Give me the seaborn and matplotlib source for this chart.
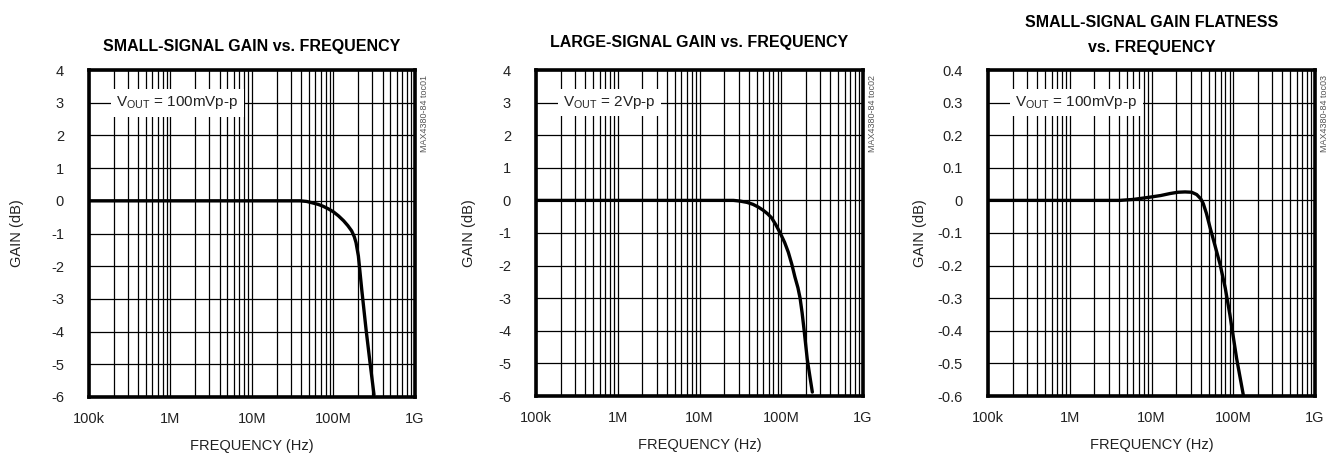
import numpy as np
import pandas as pd
import matplotlib
matplotlib.use("Agg")
import matplotlib.pyplot as plt
import seaborn as sns
from matplotlib.ticker import FixedLocator, NullFormatter

# ---- data ----
freq1 = [1e5, 1e6, 1e7, 3e7, 3.9e7, 4.7e7, 5.65e7, 6.5e7, 7.5e7, 8.7e7, 1.0e8, 1.15e8,
         1.33e8, 1.5e8, 1.67e8, 1.8e8, 1.89e8, 2.02e8, 2.22e8, 2.51e8, 2.81e8, 3.14e8]
gain1 = [0, 0, 0, 0, 0, -0.02, -0.07, -0.11, -0.17, -0.25, -0.34, -0.46,
         -0.61, -0.76, -0.92, -1.1, -1.28, -1.69, -2.71, -3.94, -4.96, -5.93]

freq2 = [1e5, 1e6, 1e7, 2e7, 2.6e7, 3.1e7, 3.8e7, 4.5e7, 5.2e7, 6.0e7, 6.8e7, 7.6e7,
         8.6e7, 9.7e7, 1.1e8, 1.22e8, 1.35e8, 1.47e8, 1.6e8, 1.7e8, 1.8e8, 1.9e8,
         2.08e8, 2.24e8, 2.4e8]
gain2 = [0, 0, 0, 0, 0, -0.02, -0.06, -0.12, -0.2, -0.3, -0.41, -0.53,
         -0.75, -1.0, -1.29, -1.59, -1.97, -2.35, -2.68, -3.0, -3.45, -3.96,
         -4.87, -5.4, -5.88]

freq3 = [1e5, 1e6, 4.1e6, 6e6, 9.6e6, 1.3e7, 1.68e7, 2.1e7, 2.57e7, 3.1e7, 3.57e7,
         4.0e7, 4.3e7, 4.7e7, 5.2e7, 6.0e7, 6.9e7, 8.0e7, 9.1e7, 1.1e8, 1.33e8]
gain3 = [0, 0, 0, 0.003, 0.010, 0.015, 0.021, 0.025, 0.026, 0.025, 0.018,
         0.005, -0.01, -0.04, -0.083, -0.14, -0.196, -0.27, -0.351, -0.485, -0.598]

titles = ["SMALL-SIGNAL GAIN vs. FREQUENCY",
          "LARGE-SIGNAL GAIN vs. FREQUENCY",
          "SMALL-SIGNAL GAIN FLATNESS\nvs. FREQUENCY"]
annotations = ["V$_{\\mathrm{OUT}}$ = 100mVp-p",
               "V$_{\\mathrm{OUT}}$ = 2Vp-p",
               "V$_{\\mathrm{OUT}}$ = 100mVp-p"]
watermarks = ["MAX4380-84 toc01", "MAX4380-84 toc02", "MAX4380-84 toc03"]
xtick_vals = [1e5, 1e6, 1e7, 1e8, 1e9]
xtick_labels = ["100k", "1M", "10M", "100M", "1G"]
yticks_big = [4, 3, 2, 1, 0, -1, -2, -3, -4, -5, -6]
ytick_labels_big = ["4", "3", "2", "1", "0", "-1", "-2", "-3", "-4", "-5", "-6"]
yticks_flat = [0.4, 0.3, 0.2, 0.1, 0, -0.1, -0.2, -0.3, -0.4, -0.5, -0.6]
ytick_labels_flat = ["0.4", "0.3", "0.2", "0.1", "0", "-0.1", "-0.2", "-0.3", "-0.4", "-0.5", "-0.6"]
annot_y = [3, 3, 0.3]

sns.set_theme(style="white")
plt.rcParams['font.family'] = ['Liberation Sans', 'DejaVu Sans']
plt.rcParams['mathtext.fontset'] = 'custom'
plt.rcParams['mathtext.rm'] = 'Liberation Sans'
plt.rcParams['mathtext.it'] = 'Liberation Sans'

fig = plt.figure(figsize=(13.33, 4.54), dpi=100)
W, H = 1333, 454
boxes = [(89, 70, 326, 327), (536, 70, 327, 326), (988, 70, 327, 326)]
ylabel_x = [-0.199, -0.183, -0.186]
title_pads = [13.5, 16.5, 13]

datasets = [(freq1, gain1, yticks_big, ytick_labels_big),
            (freq2, gain2, yticks_big, ytick_labels_big),
            (freq3, gain3, yticks_flat, ytick_labels_flat)]

minor = []
for d in range(5, 9):
    for m in range(2, 10):
        minor.append(m * 10 ** d)

txtc = "#222222"
for i, ((fx, gy, yt, ytl), (l, t, w, h)) in enumerate(zip(datasets, boxes)):
    ax = fig.add_axes([l / W, 1 - (t + h) / H, w / W, h / H])
    df = pd.DataFrame({"freq": fx, "gain": gy})
    sns.lineplot(data=df, x="freq", y="gain", ax=ax, color="black", lw=2.4, zorder=5)
    ax.set_xscale("log")
    ax.set_xlim(1e5, 1e9)
    ax.set_ylim(yt[-1], yt[0])
    ax.xaxis.set_major_locator(FixedLocator(xtick_vals))
    ax.set_xticklabels(xtick_labels)
    ax.xaxis.set_minor_locator(FixedLocator(minor))
    ax.xaxis.set_minor_formatter(NullFormatter())
    ax.set_yticks(yt)
    ax.set_yticklabels(ytl)
    ax.grid(True, which="both", axis="x", color="black", lw=0.9)
    ax.grid(True, which="major", axis="y", color="black", lw=0.9)
    ax.tick_params(axis="x", which="both", length=0, labelsize=10.5, colors=txtc, pad=11)
    ax.tick_params(axis="y", which="both", length=0, labelsize=10.5, colors=txtc, pad=18)
    for s in ax.spines.values():
        s.set_visible(True)
        s.set_color("black")
        s.set_linewidth(2.6)
    ax.set_xlabel("FREQUENCY (Hz)", fontsize=10.5, color=txtc, labelpad=9)
    ax.set_ylabel("GAIN (dB)", fontsize=10.5, color=txtc)
    ax.yaxis.set_label_coords(ylabel_x[i], 0.5)
    ax.set_title(titles[i], fontsize=11.5, fontweight="bold", pad=title_pads[i],
                 linespacing=1.85, color="black")
    ax.text(2.15e5, annot_y[i], annotations[i], fontsize=11,
            va="center", ha="left", color=txtc,
            bbox=dict(facecolor="white", edgecolor="none", boxstyle="square,pad=0.35"),
            zorder=6)
    ax.text(1.03, 0.985, watermarks[i], transform=ax.transAxes, rotation=90,
            fontsize=6.5, color="#555555", va="top", ha="center")

fig.savefig("out.png", dpi=100)
